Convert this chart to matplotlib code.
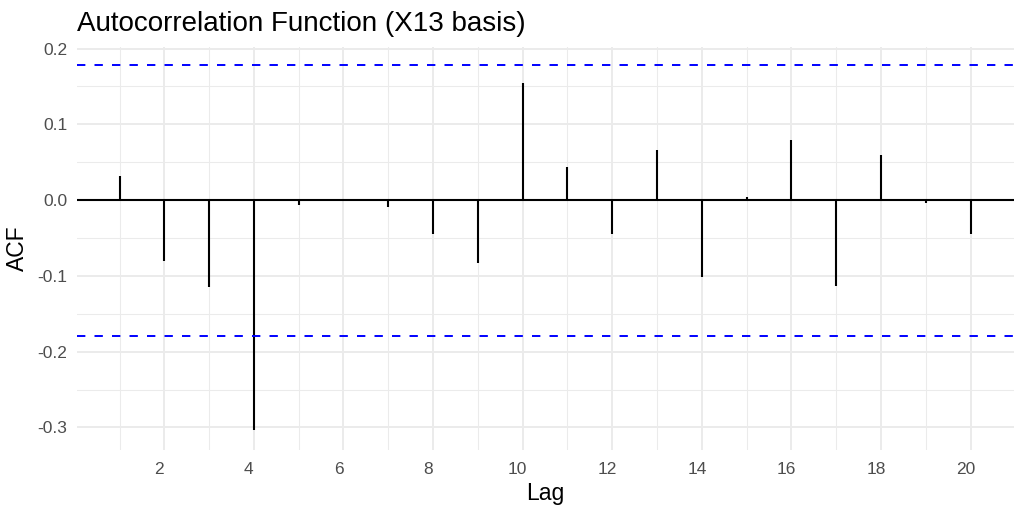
import matplotlib
matplotlib.use("Agg")
import matplotlib.pyplot as plt
import matplotlib.transforms as mtransforms
import numpy as np

lags = list(range(1, 21))
acf_values = [0.0317, -0.0805, -0.1148, -0.303, -0.0066, 0.0005, -0.0097, -0.0449,
              -0.0831, 0.1543, 0.0431, -0.0450, 0.0660, -0.1020, 0.0044, 0.0790,
              -0.1135, 0.0600, -0.0035, -0.0450]
ci = 0.179
title = "Autocorrelation Function (X13 basis)"
x_label = "Lag"
y_label = "ACF"
x_ticks = [2, 4, 6, 8, 10, 12, 14, 16, 18, 20]
y_ticks = [-0.3, -0.2, -0.1, 0.0, 0.1, 0.2]

plt.rcParams['font.family'] = ['Liberation Sans', 'DejaVu Sans']

fig = plt.figure(figsize=(10.24, 5.12), dpi=100)
ax = fig.add_axes([77/1024, 1-450/512, (1014-77)/1024, (450-47)/512])

ax.set_xlim(0.05, 20.97)
ax.set_ylim(-0.3298, 0.2021)

grid_col = '#EBEBEB'
ax.set_xticks(x_ticks)
ax.set_xticks([1, 3, 5, 7, 9, 11, 13, 15, 17, 19], minor=True)
ax.set_yticks(y_ticks)
ax.set_yticks([-0.25, -0.15, -0.05, 0.05, 0.15], minor=True)
ax.set_xticklabels([str(t) for t in x_ticks])
ax.set_yticklabels([f"{t:.1f}" for t in y_ticks])
ax.grid(True, which='major', color=grid_col, linewidth=1.4, zorder=0)
ax.grid(True, which='minor', color=grid_col, linewidth=0.75, zorder=0)
ax.set_axisbelow(True)
for s in ax.spines.values():
    s.set_visible(False)
ax.tick_params(which='both', length=0)
ax.tick_params(axis='x', pad=9, labelsize=12.5, labelcolor='#4D4D4D')
ax.tick_params(axis='y', pad=7, labelsize=12.5, labelcolor='#4D4D4D')

offset = mtransforms.ScaledTranslation(-5/100, 0, fig.dpi_scale_trans)
for lbl in ax.get_xticklabels():
    lbl.set_transform(lbl.get_transform() + offset)

ax.axhline(0, color='black', linewidth=1.5, zorder=3)
ax.vlines(lags, 0, acf_values, color='black', linewidth=1.5, zorder=3)
ax.axhline(ci, color='#0000FF', linewidth=1.4, linestyle=(0, (4.3, 4.7)), zorder=4)
ax.axhline(-ci, color='#0000FF', linewidth=1.4, linestyle=(0, (4.3, 4.7)), zorder=4)

ax.set_xlabel(x_label, fontsize=16.5, labelpad=3)
ax.set_ylabel(y_label, fontsize=16.5, labelpad=6)
fig.text(77/1024, 1-31/512, title, fontsize=20, ha='left', va='baseline')

fig.savefig("out.png", dpi=100)
